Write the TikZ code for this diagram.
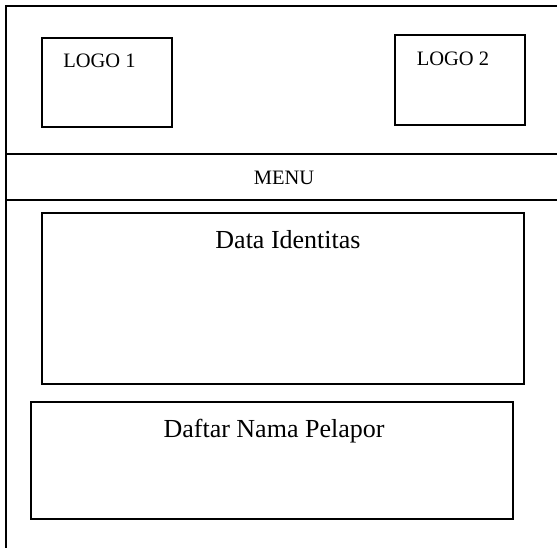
\documentclass[tikz,border=0pt]{standalone}
\usepackage{fontspec}
\setmainfont{Liberation Serif}
\begin{document}
\begin{tikzpicture}[x=1pt,y=-1pt,
  frameline/.style={line width=2pt,black},
  boxline/.style={draw,line width=1.8pt,black},
  smalltext/.style={font=\fontsize{20.5}{24}\selectfont,inner sep=0pt,anchor=base},
  bigtext/.style={font=\fontsize{26}{30}\selectfont,inner sep=0pt,anchor=base}]
\useasboundingbox (0,0) rectangle (557,548);
% outer frame
\coordinate (tl) at (6,6);
\coordinate (tr) at (560,6);
\coordinate (bl) at (6,551);
\draw[frameline] (bl) -- (tl) -- (tr);
\coordinate (m1l) at (6,154);
\coordinate (m1r) at (560,154);
\coordinate (m2l) at (6,200);
\coordinate (m2r) at (560,200);
\draw[frameline] (m1l) -- (m1r);
\draw[frameline] (m2l) -- (m2r);
% boxes
\draw[boxline] (42,38) rectangle (172,127);
\draw[boxline] (395,35) rectangle (525,125);
\draw[boxline] (42,213) rectangle (524,384);
\draw[boxline] (31,402) rectangle (513,519);
% texts
\node[smalltext] (logo1) at (99.5,68) {LOGO 1};
\node[smalltext] (logo2) at (453,66) {LOGO 2};
\node[smalltext] (menu) at (284,185) {MENU};
\node[bigtext] (data) at (288,249) {Data Identitas};
\node[bigtext] (daftar) at (274,437) {Daftar Nama Pelapor};
\end{tikzpicture}
\end{document}
